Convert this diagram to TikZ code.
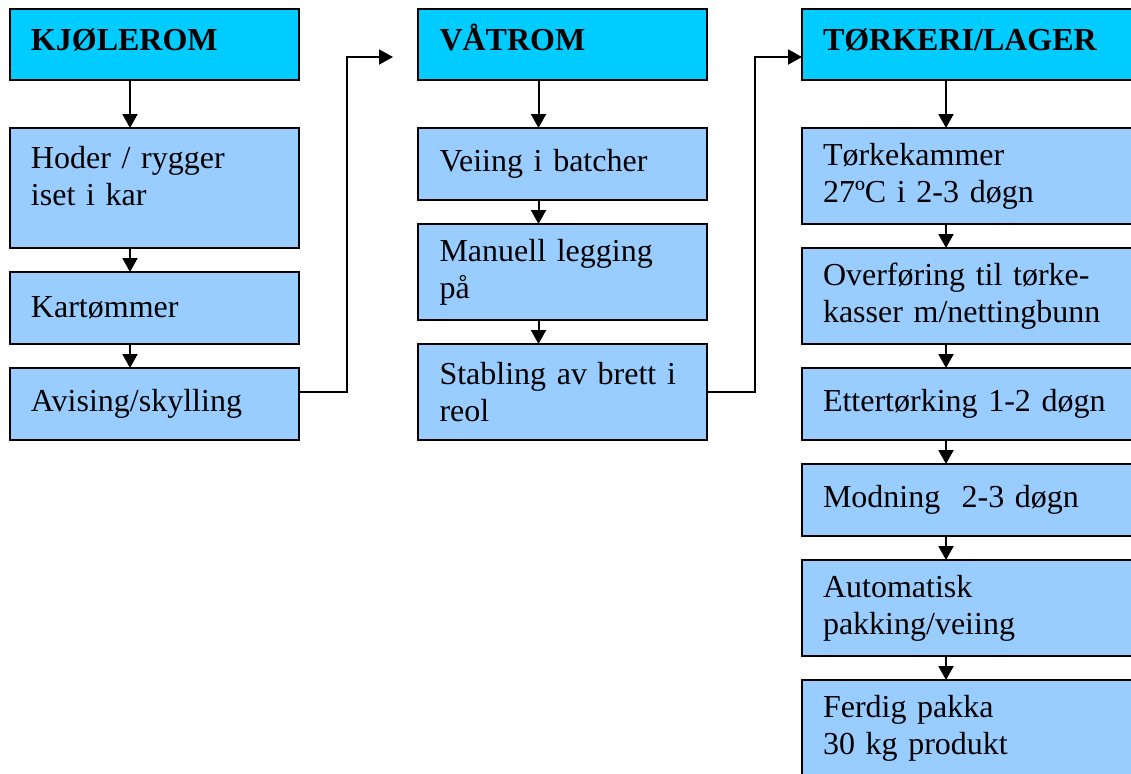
\documentclass[tikz,border=0pt]{standalone}
\usepackage{fontspec}
\setmainfont{Liberation Serif}
\usetikzlibrary{positioning,arrows.meta}
\definecolor{headblue}{HTML}{00CCFF}
\definecolor{stepblue}{HTML}{99CCFF}

\begin{document}
\begin{tikzpicture}[
      x=0.5pt,y=-0.5pt,
      node distance=12pt,
      box/.style={rectangle,draw,line width=1pt,outer sep=0pt,fill=stepblue,align=left,
        minimum width=144.5pt,text width=123pt,inner xsep=10.5pt,
        font=\fontsize{16}{18.5}\selectfont},
      head/.style={box,fill=headblue,font=\fontsize{16}{18.5}\selectfont\bfseries,
        minimum height=35.5pt,text height=11pt,text depth=5.5pt},
      wide/.style={minimum width=168pt,text width=147pt},
      arrow/.style={-{Triangle[length=7pt,width=7.5pt]},line width=1pt}
      ]

      \useasboundingbox (0,0) rectangle (1131,773);

      % kjolerom
      \node[head] (kjol) at (154,44.5) {KJØLEROM};
      \node[box,below=24pt of kjol,minimum height=60pt] (hoder) {Hoder / rygger\\iset i kar\\[-6pt]\mbox{}};
      \node[box,below=of hoder,minimum height=36pt] (kar) {Kartømmer};
      \node[box,below=of kar,minimum height=36pt] (avis) {Avising/skylling};

      % vatrom
      \node[head] (vat) at (562.5,44.5) {VÅTROM};
      \node[box,below=24pt of vat,minimum height=36pt] (veiing) {Veiing i batcher};
      \node[box,below=of veiing,minimum height=48pt] (manuell) {Manuell legging\\på};
      \node[box,below=of manuell,minimum height=48pt] (stabling) {Stabling av brett i\\reol};

      % torkeri / lager
      \node[head,wide] (tork) at (970,44.5) {TØRKERI/LAGER};
      \node[box,wide,below=24pt of tork,minimum height=48pt] (kammer) {Tørkekammer\\27ºC i 2-3 døgn};
      \node[box,wide,below=of kammer,minimum height=48pt] (overf) {Overføring til tørke-\\kasser m/nettingbunn};
      \node[box,wide,below=of overf,minimum height=36pt] (etter) {Ettertørking 1-2 døgn};
      \node[box,wide,below=of etter,minimum height=36pt] (modning) {Modning\ \ 2-3 døgn};
      \node[box,wide,below=of modning,minimum height=48pt] (auto) {Automatisk\\pakking/veiing};
      \node[box,wide,below=of auto,minimum height=48pt] (ferdig) {Ferdig pakka\\30 kg produkt};

      \foreach \a/\b in {kjol/hoder,hoder/kar,kar/avis,vat/veiing,veiing/manuell,manuell/stabling,
        tork/kammer,kammer/overf,overf/etter,etter/modning,modning/auto,auto/ferdig}
        \draw[arrow] ([xshift=-12pt]\a.south) -- ([xshift=-12pt]\b.north);

      \coordinate (inn) at (393,57);
      \draw[arrow] ([yshift=6pt]avis.east) -- ++(48,0) |- (inn);
      \draw[arrow] (stabling.east) -- ++(48,0) |- ([yshift=-6.25pt]tork.west);

    \end{tikzpicture}
\end{document}
